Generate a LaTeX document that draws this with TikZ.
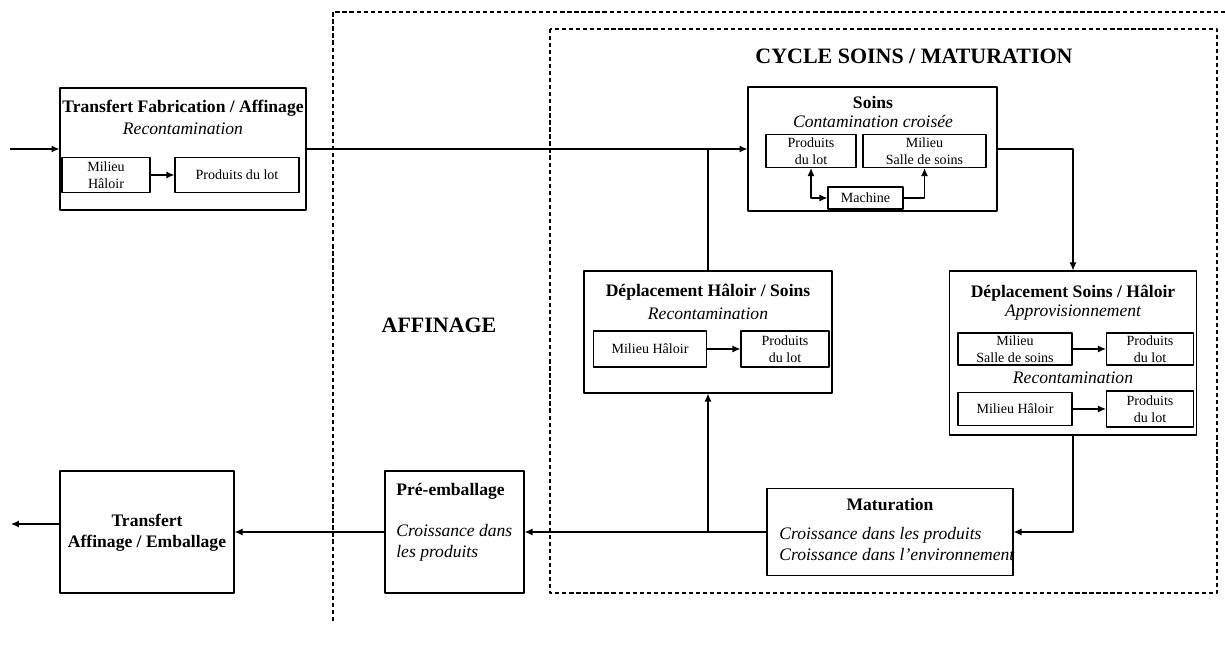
\documentclass[tikz,border=0pt]{standalone}
\usepackage{fontspec}
\setmainfont{Liberation Serif}
\usetikzlibrary{arrows.meta}
\tikzset{
	bloc/.style={draw,line width=0.7pt,inner sep=0pt},
	petit/.style={draw,line width=0.7pt,inner sep=0pt,align=center,font=\fontsize{8}{9.4}\selectfont},
	titre/.style={font=\fontsize{10}{12}\selectfont\bfseries,align=center,inner sep=0pt},
	sous/.style={font=\fontsize{10}{12}\selectfont\itshape,align=center,inner sep=0pt},
	grand/.style={font=\fontsize{12.5}{15}\selectfont\bfseries,inner sep=0pt},
	zone/.style={line width=0.6pt,dash pattern=on 2.4pt off 1.6pt},
	trait/.style={line width=0.7pt},
	fleche/.style={line width=0.7pt,-{Latex[length=4.5pt,width=4pt]}},
	double fleche/.style={line width=0.7pt,{Latex[length=4.5pt,width=4pt]}-{Latex[length=4.5pt,width=4pt]}}
}
\begin{document}
\begin{tikzpicture}[x=0.02cm,y=-0.02cm,line join=round]
	\useasboundingbox (0,0) rectangle (1225,651);
	% zones
	\draw[zone] (333,621) -- (333,12) -- (1225,12);
	\draw[zone] (550,29) rectangle (1217,593);
	\node[grand] (cycle) at (914,56) {CYCLE SOINS / MATURATION};
	\node[grand] (affinage) at (439,325) {AFFINAGE};
	
	% transfert fabrication / affinage
	\node[bloc,minimum width=4.92cm,minimum height=2.44cm] (tfa) at (183,149) {};
	\node[titre] (tfaT) at (183,108) {Transfert Fabrication / Affinage};
	\node[sous] (tfaR) at (183,129) {Recontamination};
	\node[petit,minimum width=1.76cm,minimum height=0.7cm] (tfaM) at (106,175) {Milieu\\Hâloir};
	\node[petit,minimum width=2.48cm,minimum height=0.7cm] (tfaP) at (237,175) {Produits du lot};
	
	% soins
	\node[bloc,minimum width=4.98cm,minimum height=2.48cm] (soins) at (872.5,149) {};
	\node[titre] (soT) at (873,102) {Soins};
	\node[sous] (soC) at (873,121) {Contamination croisée};
	\node[petit,minimum width=1.8cm,minimum height=0.66cm] (soP) at (811,151) {Produits\\du lot};
	\node[petit,minimum width=2.46cm,minimum height=0.66cm] (soM) at (924.5,151) {Milieu\\Salle de soins};
	\node[petit,minimum width=1.5cm,minimum height=0.44cm] (mach) at (865.5,198) {Machine};
	
	% deplacement haloir / soins
	\node[bloc,minimum width=4.96cm,minimum height=2.44cm] (dhs) at (708,332) {};
	\node[titre] (dhsT) at (708,292) {Déplacement Hâloir / Soins};
	\node[sous] (dhsR) at (708,314) {Recontamination};
	\node[petit,minimum width=2.26cm,minimum height=0.72cm] (dhM) at (650,349) {Milieu Hâloir};
	\node[petit,minimum width=1.76cm,minimum height=0.72cm] (dhP) at (785,349) {Produits\\du lot};
	
	% deplacement soins / haloir
	\node[bloc,minimum width=4.94cm,minimum height=3.28cm] (dsh) at (1073,353) {};
	\node[titre] (dshT) at (1073,293) {Déplacement Soins / Hâloir};
	\node[sous] (dshA) at (1073,313) {Approvisionnement};
	\node[sous] (dshR) at (1073,378) {Recontamination};
	\node[petit,minimum width=2.28cm,minimum height=0.64cm] (dsMS) at (1015,349) {Milieu\\Salle de soins};
	\node[petit,minimum width=1.74cm,minimum height=0.64cm] (dsP1) at (1150,349) {Produits\\du lot};
	\node[petit,minimum width=2.28cm,minimum height=0.66cm] (dsMH) at (1015,409) {Milieu Hâloir};
	\node[petit,minimum width=1.74cm,minimum height=0.72cm] (dsP2) at (1150,409) {Produits\\du lot};
	
	% maturation
	\node[bloc,minimum width=4.92cm,minimum height=1.74cm] (mat) at (890,532) {};
	\node[titre] (matT) at (890,505) {Maturation};
	\node[sous,align=left,anchor=west] (matC) at (779,544) {Croissance dans les produits\\Croissance dans l’environnement};
	
	% pre-emballage
	\node[bloc,minimum width=2.78cm,minimum height=2.44cm] (pre) at (454.5,532) {};
	\node[titre,anchor=west] (preT) at (396,491) {Pré-emballage};
	\node[sous,align=left,anchor=west] (preC) at (396,543) {Croissance dans\\les produits};
	
	% transfert affinage / emballage
	\node[bloc,minimum width=3.48cm,minimum height=2.44cm] (tae) at (147,532) {};
	\node[titre] (taeT) at (147,533) {Transfert\\Affinage / Emballage};
	
	% liaisons
	\coordinate (entree) at (10,149);
	\coordinate (sortie) at (11,524);
	\draw[fleche] (entree) -- (tfa.west);
	\draw[fleche] (tfa.east) -- (soins.west);
	\draw[fleche] (tfaM) -- (tfaP);
	\draw[double fleche] (soP.south) |- (mach.west);
	\draw[fleche] (mach.east) -| (soM.south);
	\draw[fleche] (soins.east) -| (dsh.north);
	\draw[fleche] (dsMS) -- (dsP1);
	\draw[fleche] (dsMH) -- (dsP2);
	\draw[fleche] (dsh.south) |- (mat.east);
	\draw[fleche] (mat.west) -- (pre.east);
	\coordinate (jonction) at (dhs.south |- mat.west);
	\draw[fleche] (jonction) -- (dhs.south);
	\draw[trait] (dhs.north) -- (dhs.north |- tfa.east);
	\draw[fleche] (dhM) -- (dhP);
	\draw[fleche] (pre.west) -- (tae.east);
	\draw[fleche] (sortie -| tae.west) -- (sortie);
\end{tikzpicture}
\end{document}
